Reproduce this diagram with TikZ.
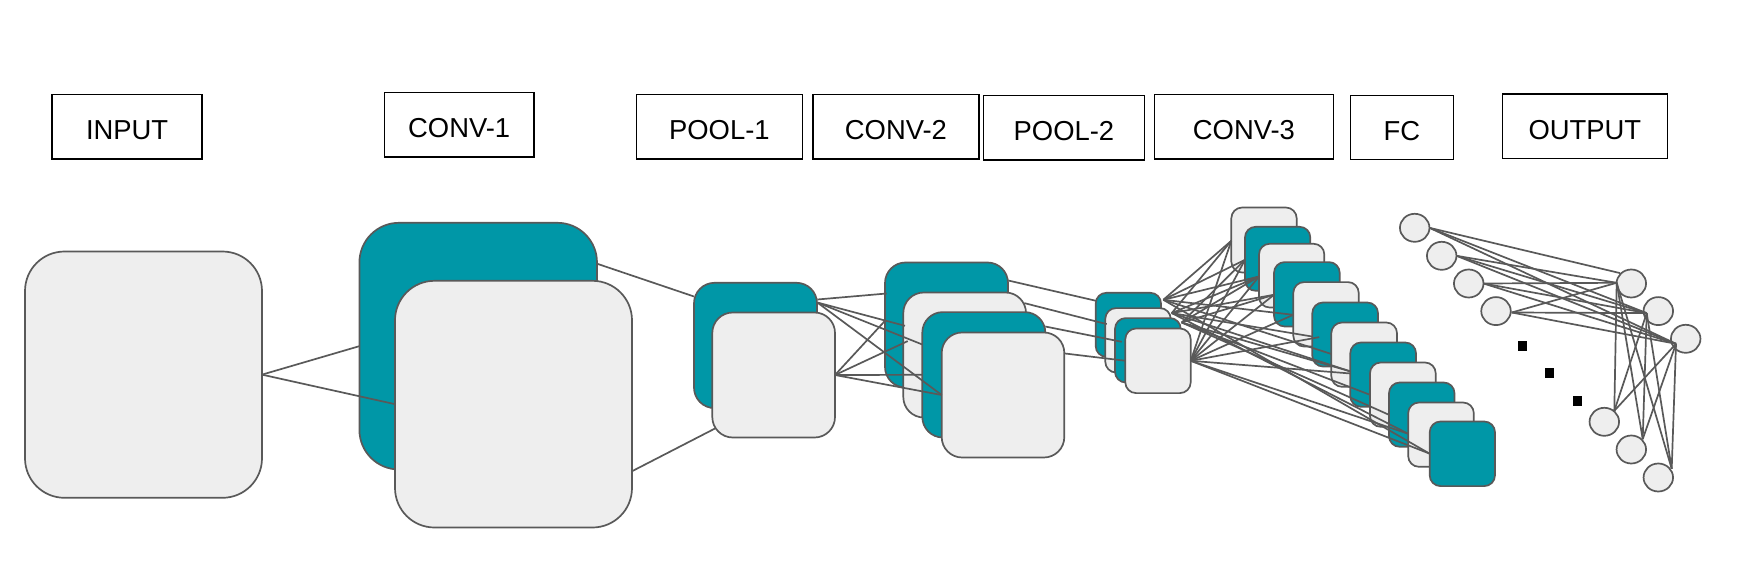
\documentclass[tikz,border=0pt]{standalone}
\usepackage{fontspec}
\setmainfont{Liberation Sans}
\usetikzlibrary{shapes.geometric}
\definecolor{tealfill}{HTML}{0097A7}
\definecolor{pale}{HTML}{EEEEEE}
\definecolor{wire}{HTML}{595959}
\tikzset{
  layerbox/.style={draw=black,line width=1.5pt,fill=white,inner sep=0pt,outer sep=0pt,font=\fontsize{27.4}{27.4}\selectfont},
  rr/.style={draw=wire,line width=1.7pt,inner sep=0pt,outer sep=0pt},
  tealrr/.style={rr,fill=tealfill},
  palerr/.style={rr,fill=pale},
  neuron/.style={ellipse,draw=wire,line width=1.7pt,fill=pale,minimum width=29.5pt,minimum height=28pt,inner sep=0pt,outer sep=0pt},
  dotmark/.style={fill=black,draw=none,minimum width=8.8pt,minimum height=9.6pt,inner sep=0pt,outer sep=0pt},
  wireline/.style={draw=wire,line width=1.7pt}
}
% name, x1, y1, x2, y2, style
\newcommand{\rbox}[6]{%
  \pgfmathsetmacro{\bw}{#4-#2}\pgfmathsetmacro{\bh}{#5-#3}%
  \pgfmathsetmacro{\brad}{min(\bw,\bh)*0.1667}%
  \node[#6,rounded corners=\brad pt,minimum width=\bw pt,minimum height=\bh pt] (#1) at ({(#2+#4)/2},{(#3+#5)/2}) {};}
\newcommand{\lbox}[6]{%
  \pgfmathsetmacro{\bw}{#4-#2}\pgfmathsetmacro{\bh}{#5-#3}%
  \node[layerbox,minimum width=\bw pt,minimum height=\bh pt] (#1) at ({(#2+#4)/2},{(#3+#5)/2}) {\raisebox{-13pt}[0pt][0pt]{#6}};}
\begin{document}
\begin{tikzpicture}[x=1pt,y=-1pt]
\useasboundingbox (0,0) rectangle (1746,583);
% header boxes
\lbox{hInput}{52.2}{94.4}{202}{159}{INPUT}
\lbox{hConvA}{384.4}{92.4}{534}{157}{CONV-1}
\lbox{hPoolA}{636.4}{94.4}{802.4}{159}{POOL-1}
\lbox{hConvB}{812.8}{94.4}{979}{159}{CONV-2}
\lbox{hPoolB}{983.4}{95.4}{1144.4}{160}{POOL-2}
\lbox{hConvC}{1154.4}{94.4}{1333.4}{159}{CONV-3}
\lbox{hFC}{1350.4}{95.4}{1453.4}{159.4}{FC}
\lbox{hOut}{1502.4}{94}{1667.4}{158.4}{OUTPUT}
\begin{scope}[yshift=-0.8pt]
% stacks
\rbox{input}{25}{250.7}{262}{497}{palerr}
\rbox{convAa}{359.4}{222}{597}{468.7}{tealrr}
\rbox{convAb}{395}{280}{632}{526.7}{palerr}
\rbox{poolAa}{694}{282}{817}{407.3}{tealrr}
\rbox{poolAb}{712.3}{311.7}{835}{436.7}{palerr}
\rbox{convBa}{885}{261.7}{1008}{386.7}{tealrr}
\rbox{convBb}{903.3}{291.7}{1026}{416.7}{palerr}
\rbox{convBc}{922.3}{311.3}{1045.3}{436.7}{tealrr}
\rbox{convBd}{941.7}{331.7}{1064.3}{456.7}{palerr}
\rbox{poolBa}{1095.7}{292}{1161}{356}{tealrr}
\rbox{poolBb}{1105.3}{307.3}{1170.7}{371.7}{palerr}
\rbox{poolBc}{1115}{317.3}{1180.7}{381.7}{tealrr}
\rbox{poolBd}{1125.3}{327.7}{1190.7}{392.3}{palerr}
\rbox{fcA}{1231.3}{206.7}{1296.7}{271.7}{palerr}
\rbox{fcB}{1245}{226}{1310.3}{290}{tealrr}
\rbox{fcC}{1259}{243}{1324.3}{306.7}{palerr}
\rbox{fcD}{1274}{261.3}{1339.7}{325.7}{tealrr}
\rbox{fcE}{1293.3}{281.3}{1358.7}{345.7}{palerr}
\rbox{fcF}{1312.3}{301.7}{1378}{365.7}{tealrr}
\rbox{fcG}{1331.3}{321.7}{1397}{386}{palerr}
\rbox{fcH}{1350.3}{341.7}{1416}{406}{tealrr}
\rbox{fcI}{1370}{361.7}{1435.7}{426}{palerr}
\rbox{fcJ}{1389}{381.7}{1454.5}{446}{tealrr}
\rbox{fcK}{1408.2}{401.7}{1473.8}{466}{palerr}
\rbox{fcL}{1429.7}{420.7}{1495}{485.3}{tealrr}
% neurons
\node[neuron] (inA) at (1414.7,227) {};
\node[neuron] (inB) at (1441.7,255) {};
\node[neuron] (inC) at (1468.7,282.7) {};
\node[neuron] (inD) at (1496,310.3) {};
\node[neuron] (outA) at (1631.3,282.7) {};
\node[neuron] (outB) at (1658.3,310.3) {};
\node[neuron] (outC) at (1685.7,338) {};
\node[neuron] (outD) at (1604.3,421) {};
\node[neuron] (outE) at (1631.3,448.7) {};
\node[neuron] (outF) at (1658.3,476.7) {};
\node[dotmark] (dotA) at (1522.7,345.2) {};
\node[dotmark] (dotB) at (1549.5,372.2) {};
\node[dotmark] (dotC) at (1577.5,400.2) {};
% free ends
\coordinate (cA) at (597.3,263);
\coordinate (pA) at (694,295.7);
\coordinate (cB) at (631.5,470.7);
\coordinate (pB) at (715,427.7);
\coordinate (qA) at (817.3,298.7);
\coordinate (qB) at (817.3,301.7);
\coordinate (rA) at (886.7,292.7);
\coordinate (rB) at (905,325);
\coordinate (rC) at (922.3,343.7);
\coordinate (rD) at (885,320);
\coordinate (rE) at (907.7,340.3);
\coordinate (vA) at (1008.3,279.7);
\coordinate (vB) at (1096,300);
\coordinate (vC) at (1024.3,302.3);
\coordinate (vD) at (1106.7,323.3);
\coordinate (vE) at (1045.3,325.7);
\coordinate (vF) at (1121.7,341);
\coordinate (vG) at (1065,352.7);
\coordinate (vH) at (1125.7,360);
\coordinate (sA) at (1163.3,299);
\coordinate (sB) at (1171.7,312.3);
\coordinate (sC) at (1181.7,321.7);
\coordinate (tA) at (1231.3,240);
\coordinate (tB) at (1245,259);
\coordinate (tC) at (1259,275.7);
\coordinate (tD) at (1274,294);
\coordinate (tE) at (1293.3,314);
\coordinate (tF) at (1312,335.7);
\coordinate (tFb) at (1319.3,336.3);
\coordinate (tG) at (1331.7,353.3);
\coordinate (tH) at (1350.7,370.7);
\coordinate (tHb) at (1350.7,372.7);
\coordinate (tI) at (1370,394);
\coordinate (tJ) at (1389,414);
\coordinate (tK) at (1408.3,433);
\coordinate (tL) at (1429.3,452.7);
\coordinate (fA) at (1620,272.3);
\coordinate (fB) at (1616.7,282);
\coordinate (fC) at (1646.7,312.3);
\coordinate (fD) at (1676,343);
\coordinate (fE) at (1614.3,410);
\coordinate (fF) at (1642.7,438.3);
\coordinate (fG) at (1671.7,468);
\coordinate (inDp) at (1511.7,311.7);
% connectors
\begin{scope}[every path/.style={wireline}]
\draw (input.east) -- (convAa.west);
\draw (input.east) -- (convAb.west);
\draw (cA) -- (pA);
\draw (cB) -- (pB);
\draw (qA) -- (rA);
\foreach \t in {rB,rC,convBd.west} \draw (qB) -- (\t);
\foreach \t in {rD,rE,convBc.west,convBd.west} \draw (poolAb.east) -- (\t);
\draw (vA) -- (vB);
\draw (vC) -- (vD);
\draw (vE) -- (vF);
\draw (vG) -- (vH);
\foreach \t in {tA,tB,tC,tE,tG,tL} \draw (sA) -- (\t);
\foreach \t in {tA,tC,tD,tF,tH,tK} \draw (sB) -- (\t);
\foreach \t in {tB,tC,tD,tH,tI,tJ} \draw (sC) -- (\t);
\foreach \t in {tA,tB,tC,tD,tE,tFb,tHb,tK,tL} \draw (poolBd.east) -- (\t);
\foreach \t in {fA,fC,fD} \draw (inA.east) -- (\t);
\foreach \t in {fB,fC,fD} \draw (inB.east) -- (\t);
\foreach \t in {fB,fC,fD} \draw (inC.east) -- (\t);
\foreach \t in {fB,fC,fD} \draw (inDp) -- (\t);
\foreach \s in {fB,fC,fD} \foreach \t in {fE,fF,fG} \draw (\s) -- (\t);
\end{scope}
\end{scope}
\end{tikzpicture}
\end{document}
